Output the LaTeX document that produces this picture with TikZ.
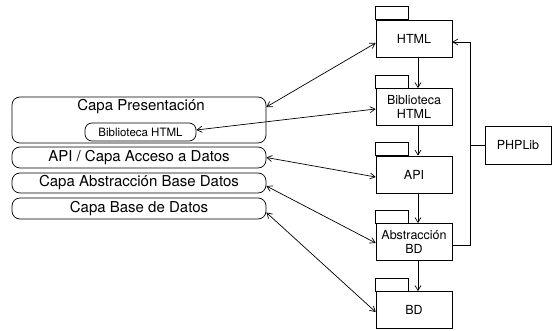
\documentclass[tikz,border=0pt]{standalone}
\usepackage{fontspec}
\setmainfont{TeX Gyre Heros}
\usetikzlibrary{arrows.meta}
\begin{document}
\begin{tikzpicture}[x=1pt,y=-1pt,line width=0.7pt,
  pkgbox/.style={draw,minimum width=76pt,minimum height=37pt,inner sep=1pt,
    align=center,font=\fontsize{12.5}{13.5}\selectfont},
  layer/.style={draw,rounded corners=8pt,minimum width=254pt,inner sep=0pt,
    font=\fontsize{15}{16}\selectfont},
  inlayer/.style={draw,rounded corners=7pt,minimum width=111pt,minimum height=18pt,inner sep=0pt,
    font=\fontsize{11.5}{12}\selectfont},
  tip/.style={-{Straight Barb[length=5pt,width=6pt]}},
  dtip/.style={{Straight Barb[length=5pt,width=6pt]}-{Straight Barb[length=5pt,width=6pt]}}]
\useasboundingbox (0,0) rectangle (552,331);
% packages
\node[pkgbox] (html) at (414,38.5) {HTML};
\node[pkgbox] (bib) at (414,107) {Biblioteca\\HTML};
\node[pkgbox] (api) at (414,174.5) {API};
\node[pkgbox] (abs) at (414,242) {Abstracción\\BD};
\node[pkgbox] (bd) at (414,310) {BD};
\foreach \p in {html,bib,api,abs,bd}{
  \draw (\p.north west) rectangle ++(33,-13);
}
\node[pkgbox,minimum width=66pt,minimum height=38pt] (php) at (518,145) {PHPLib};
% package chain
\draw[tip] ([xshift=4pt]html.south) -- ([xshift=4pt]bib.north);
\draw[tip] ([xshift=4pt]bib.south) -- ([xshift=4pt]api.north);
\draw[tip] ([xshift=4pt]api.south) -- ([xshift=4pt]abs.north);
\draw[tip] ([xshift=4pt]abs.south) -- ([xshift=4pt]bd.north);
% PHPLib connector
\coordinate (bot) at (470,245);
\coordinate (top) at (470,42);
\coordinate (jn) at (470,145);
\draw[tip] ([yshift=-3pt]abs.east) -- (bot) -- (top) -- ([yshift=-3.5pt]html.east);
\draw (php.west) -- (jn);
% layers
\node[layer,minimum height=46pt] (pres) at (139,120) {};
\node[font=\fontsize{15}{16}\selectfont] (prest) at (141,107) {Capa Presentación};
\node[inlayer] (bibl) at (140.5,132) {Biblioteca HTML};
\node[layer,minimum height=21pt] (apil) at (139,157.5) {API / Capa Acceso a Datos};
\node[layer,minimum height=20pt] (absl) at (139,183) {Capa Abstracción Base Datos};
\node[layer,minimum height=21pt] (bdl) at (139,208.5) {Capa Base de Datos};
% double arrows
\draw[dtip] ([yshift=-4.5pt]html.west) -- ([yshift=13pt]pres.east);
\draw[dtip] ([yshift=-2pt]bib.west) -- ([yshift=2pt]bibl.east);
\draw[dtip] ([yshift=-2.5pt]api.west) -- (apil.east);
\draw[dtip] ([yshift=-1pt]abs.west) -- ([yshift=-3pt]absl.east);
\draw[dtip] ([yshift=-2pt]bd.west) -- ([yshift=-4pt]bdl.east);
\end{tikzpicture}
\end{document}
